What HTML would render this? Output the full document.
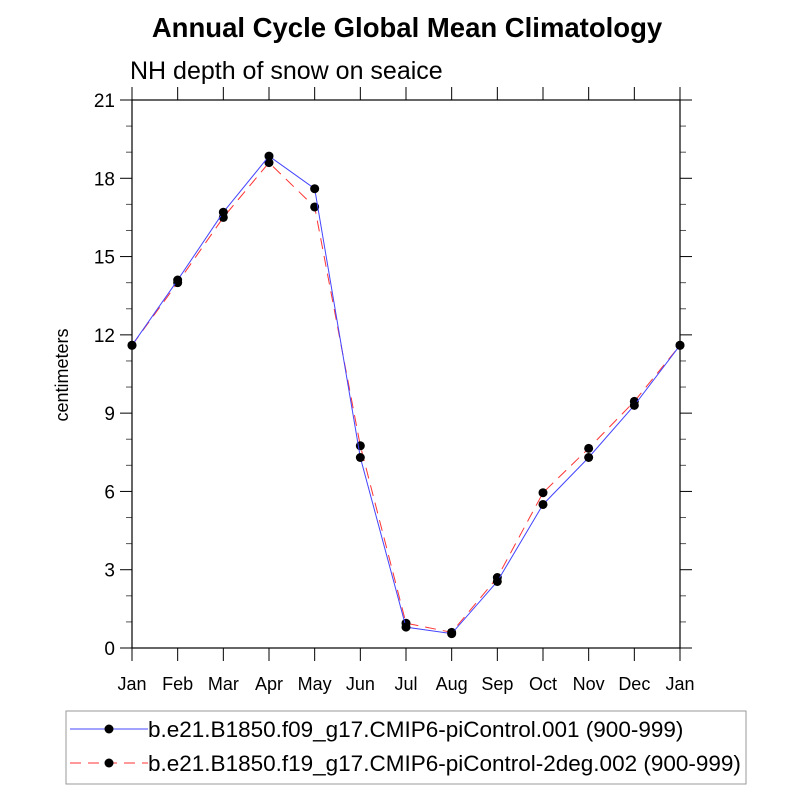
<!DOCTYPE html>
<html><head><meta charset="utf-8"><style>
body{margin:0;background:#fff}
svg{display:block;font-family:"Liberation Sans",sans-serif}
</style></head><body>
<svg id="chart" width="800" height="800" viewBox="0 0 800 800">
<rect width="800" height="800" fill="#fff"/>
<text x="407" y="37" text-anchor="middle" font-size="27.5" font-weight="bold">Annual Cycle Global Mean Climatology</text>
<text x="130" y="79" font-size="25">NH depth of snow on seaice</text>
<text transform="translate(68,375) rotate(-90)" text-anchor="middle" font-size="18">centimeters</text>
<g id="axes"></g>
<g id="series"></g>
<rect x="132" y="100" width="548" height="548" fill="none" stroke="#000" stroke-width="1.2"/>
<g>
<rect x="66" y="711" width="680" height="73" fill="#fff" stroke="#999" stroke-width="1"/>
<g>
<line x1="70" y1="729" x2="148" y2="729" stroke="#4444ff" stroke-width="1"/>
<circle cx="109" cy="729" r="4.5" fill="#000"/>
<text x="148" y="737" font-size="22.5">b.e21.B1850.f09_g17.CMIP6-piControl.001 (900-999)</text>
</g>
<g>
<line x1="70" y1="763" x2="148" y2="763" stroke="#ff3333" stroke-width="1" stroke-dasharray="11,7"/>
<circle cx="109" cy="763" r="4.5" fill="#000"/>
<text x="148" y="771" font-size="22.5">b.e21.B1850.f19_g17.CMIP6-piControl-2deg.002 (900-999)</text>
</g>
</g>
</svg>
<script>
const months = ["Jan","Feb","Mar","Apr","May","Jun","Jul","Aug","Sep","Oct","Nov","Dec","Jan"];
const seriesF09 = [11.6,14.1,16.7,18.85,17.6,7.3,0.8,0.55,2.55,5.5,7.3,9.3,11.6];
const seriesF19 = [11.6,14.0,16.5,18.6,16.9,7.75,0.95,0.6,2.7,5.95,7.65,9.45,11.6];
const yTicks = [0,3,6,9,12,15,18,21];
const yMin = 0, yMax = 21;

const NS = "http://www.w3.org/2000/svg";
const L = 132, R = 680, T = 100, B = 648;
function xs(i){ return L + i*(R-L)/(months.length-1); }
function ys(v){ return B - (v-yMin)/(yMax-yMin)*(B-T); }
function mk(tag, attrs, parent){
  const e = document.createElementNS(NS, tag);
  for (const k in attrs) e.setAttribute(k, attrs[k]);
  parent.appendChild(e);
  return e;
}
const axes = document.getElementById("axes");
for (let v = yMin; v <= yMax; v++) {
  const major = yTicks.includes(v);
  const len = major ? 12 : 6;
  const y = ys(v);
  const t1 = mk("line",{x1:L-len,y1:y,x2:L,y2:y,stroke:major?"#000":"#555","stroke-width":1},axes);
  
  
  const t2 = mk("line",{x1:R,y1:y,x2:R+len,y2:y,stroke:major?"#000":"#555","stroke-width":1},axes);
  
  
  if (major) {
    const tx = mk("text",{x:L-17,y:y+7,"text-anchor":"end","font-size":19},axes);
    tx.textContent = v;
    
    
  }
}
months.forEach((m,i)=>{
  const x = xs(i);
  const a = mk("line",{x1:x,y1:B,x2:x,y2:B+13,stroke:"#000","stroke-width":1},axes);
  
  
  const b = mk("line",{x1:x,y1:T-13,x2:x,y2:T,stroke:"#000","stroke-width":1},axes);
  
  
  const tx = mk("text",{x:x,y:690,"text-anchor":"middle","font-size":18},axes);
  tx.textContent = m;
  
  
});
const sg = document.getElementById("series");
function drawSeries(vals, color, dash, name){
  const g = mk("g",{},sg);
  
  
  const pts = vals.map((v,i)=>xs(i)+","+ys(v)).join(" ");
  const pl = mk("polyline",{points:pts,fill:"none",stroke:color,"stroke-width":1,"stroke-dasharray":dash},g);
  
  
  vals.forEach((v,i)=>{
    const c = mk("circle",{cx:xs(i),cy:ys(v),r:4.5,fill:"#000"},g);
    
    
  });
}
drawSeries(seriesF19, "#ff3333", "11,7", "series-f19");
drawSeries(seriesF09, "#4444ff", "none", "series-f09");
</script>
</body></html>
